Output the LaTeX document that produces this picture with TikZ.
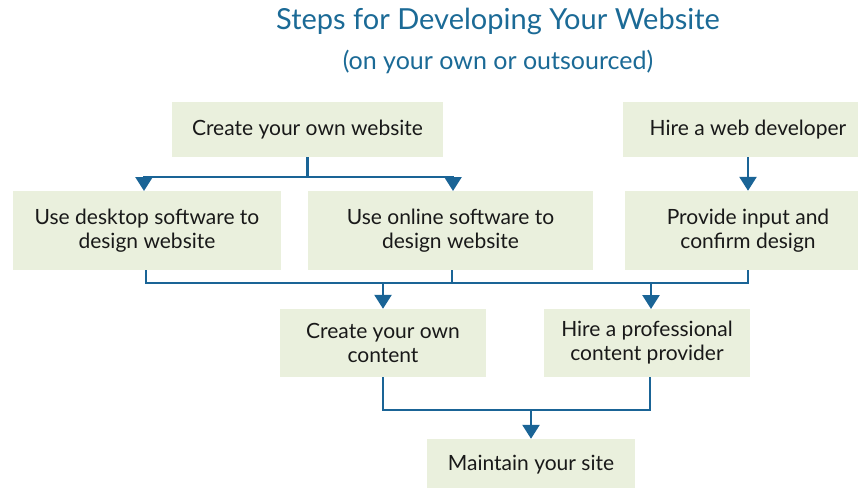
\documentclass[tikz,border=0pt]{standalone}
\usepackage{fontspec}
\setmainfont{Lato}
\usetikzlibrary{arrows.meta}
\definecolor{ln}{HTML}{1A6496}
\definecolor{bx}{HTML}{EAF0DD}
\definecolor{tt}{HTML}{1B6A96}
\tikzset{
  box/.style={fill=bx, draw=none, align=center, inner sep=0pt, font=\fontsize{21}{24}\selectfont, text=black!90},
  line/.style={draw=ln, line width=2.6pt},
  arr/.style={line, -{Triangle[width=17pt,length=14pt]}},
}
\begin{document}
\begin{tikzpicture}[x=1pt,y=-1pt]
\useasboundingbox (0,0) rectangle (858,487);
\begin{scope}
\clip (0,0) rectangle (858,487);
\node[font=\fontsize{29}{34}\selectfont, text=tt] (title) at (498,21) {Steps for Developing Your Website};
\node[font=\fontsize{25}{30}\selectfont, text=tt] (sub) at (498,62) {(on your own or outsourced)};

\node[box, minimum width=271pt, minimum height=55pt] (own) at (307.5,129.5) {Create your own website};
\node[box, minimum width=250pt, minimum height=55pt] (dev) at (748,129.5) {Hire a web developer};
\node[box, minimum width=268pt, minimum height=79pt] (desk) at (147,230.5) {Use desktop software to\\design website};
\node[box, minimum width=285pt, minimum height=79pt] (online) at (450.5,230.5) {Use online software to\\design website};
\node[box, minimum width=246pt, minimum height=79pt] (prov) at (748,230.5) {Provide input and\\confirm design};
\node[box, minimum width=206pt, minimum height=68pt] (content) at (383,343) {Create your own\\content};
\node[box, minimum width=206pt, minimum height=68pt] (prof) at (647,343) {Hire a professional\\content provider};
\node[box, minimum width=208pt, minimum height=52pt] (maint) at (531,465) {Maintain your site};
\end{scope}

\coordinate (bar1) at (0,177);
\coordinate (bar2) at (0,283);
\coordinate (bar3) at (0,410);

\draw[arr] (own.south) |- (bar1 -| 144,0) -- (144,191);
\draw[arr] (own.south) |- (bar1 -| 453,0) -- (453,191);
\draw[arr] (dev.south) -- (prov.north);

\draw[line] (146,270) |- (bar2 -| prov.south) -- (prov.south);
\draw[line] (452,270) -- (bar2 -| 452,0);
\draw[arr] (bar2 -| content.north) -- (content.north);
\draw[arr] (bar2 -| 651,0) -- (651,309);

\draw[line] (content.south) |- (bar3 -| 650,0) -- (650,377);
\draw[arr] (bar3 -| maint.north) -- (maint.north);
\end{tikzpicture}
\end{document}
